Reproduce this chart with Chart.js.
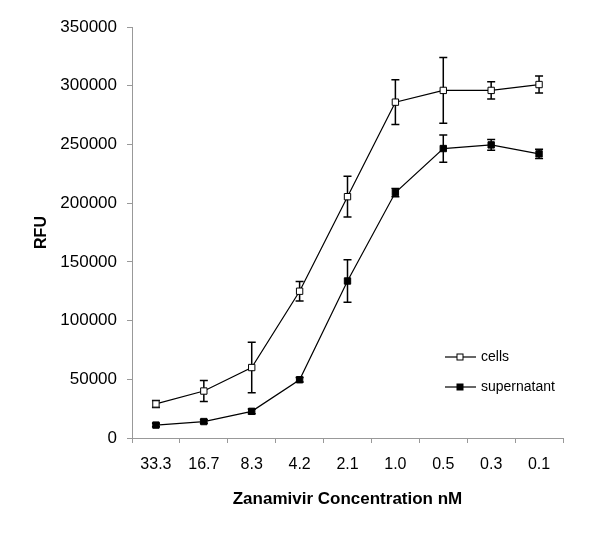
<!DOCTYPE html>
<html lang="en">
<head>
    <meta charset="UTF-8">
    <title>Zanamivir RFU</title>
    <script src="https://cdn.jsdelivr.net/npm/chart.js"></script>
    <style>
        body { margin: 0; background: #fff; }
        #wrap { width: 600px; height: 538px; }
    </style>
</head>
<body>
<div id="wrap"><canvas id="rfuChart"></canvas></div>
<script>
    const concentrations = ["33.3", "16.7", "8.3", "4.2", "2.1", "1.0", "0.5", "0.3", "0.1"];
    const cells = [29000, 40000, 60000, 125000, 205500, 286000, 296000, 296000, 301000];
    const cellsErr = [3000, 9000, 21500, 8300, 17300, 19000, 28000, 7400, 7200];
    const supernatant = [11000, 14000, 22700, 49600, 133700, 209000, 246500, 249600, 242000];
    const supernatantErr = [1500, 1500, 2000, 2000, 18000, 3500, 11600, 4500, 4000];
    const yTicks = [0, 50000, 100000, 150000, 200000, 250000, 300000, 350000];

    const FONT = "'Liberation Sans', Arial, sans-serif";

    // vertical error bars with caps, drawn under the markers
    const errorBars = {
        id: 'errorBars',
        beforeDatasetsDraw(chart) {
            const ctx = chart.ctx;
            const y = chart.scales.y;
            ctx.save();
            ctx.strokeStyle = '#000';
            ctx.lineWidth = 1.5;
            chart.data.datasets.forEach((ds, i) => {
                const meta = chart.getDatasetMeta(i);
                meta.data.forEach((pt, j) => {
                    const v = ds.data[j], e = ds.errors[j];
                    const top = y.getPixelForValue(v + e);
                    const bot = y.getPixelForValue(v - e);
                    ctx.beginPath();
                    ctx.moveTo(pt.x, top); ctx.lineTo(pt.x, bot);
                    ctx.moveTo(pt.x - 4, top); ctx.lineTo(pt.x + 4, top);
                    ctx.moveTo(pt.x - 4, bot); ctx.lineTo(pt.x + 4, bot);
                    ctx.stroke();
                });
            });
            ctx.restore();
        }
    };

    const insideLegend = {
        id: 'insideLegend',
        afterDraw(chart) {
            const ctx = chart.ctx;
            ctx.save();
            ctx.font = "14px " + FONT;
            ctx.textBaseline = 'middle';
            chart.data.datasets.forEach((ds, i) => {
                const ly = 357 + i * 30;
                ctx.strokeStyle = '#000';
                ctx.lineWidth = 1.2;
                ctx.beginPath();
                ctx.moveTo(445, ly); ctx.lineTo(476, ly);
                ctx.stroke();
                ctx.fillStyle = ds.pointBackgroundColor;
                ctx.fillRect(457, ly - 3, 6, 6);
                ctx.lineWidth = 1;
                ctx.strokeRect(457, ly - 3, 6, 6);
                ctx.fillStyle = '#000';
                ctx.fillText(ds.label, 481, ly);
            });
            ctx.restore();
        }
    };

    new Chart(document.getElementById('rfuChart'), {
        type: 'line',
        data: {
            labels: concentrations,
            datasets: [{
                label: 'cells',
                data: cells,
                errors: cellsErr,
                borderColor: '#000',
                borderWidth: 1.2,
                pointStyle: 'rect',
                pointRadius: 4.5,
                pointBorderWidth: 1,
                pointBorderColor: '#000',
                pointBackgroundColor: '#fff',
                tension: 0
            }, {
                label: 'supernatant',
                data: supernatant,
                errors: supernatantErr,
                borderColor: '#000',
                borderWidth: 1.2,
                pointStyle: 'rect',
                pointRadius: 4.5,
                pointBorderWidth: 1,
                pointBorderColor: '#000',
                pointBackgroundColor: '#000',
                tension: 0
            }]
        },
        options: {
            responsive: true,
            maintainAspectRatio: false,
            animation: false,
            layout: { padding: { top: 27, right: 37, bottom: 0, left: 0 } },
            plugins: { legend: { display: false }, tooltip: { enabled: false } },
            scales: {
                x: {
                    offset: true,
                    grid: { offset: true, drawOnChartArea: false, drawTicks: true, tickLength: 5, color: '#999' },
                    border: { color: '#999' },
                    ticks: { color: '#000', font: { family: FONT, size: 16 }, padding: 12, maxRotation: 0 },
                    title: {
                        display: true,
                        text: 'Zanamivir Concentration nM',
                        color: '#000',
                        font: { family: FONT, size: 17, weight: 'bold' },
                        padding: { top: 0, bottom: 28 }
                    },
                    afterFit(s) { s.height = 100; }
                },
                y: {
                    min: 0,
                    max: 350000,
                    afterBuildTicks(s) { s.ticks = yTicks.map(v => ({ value: v })); },
                    grid: { drawOnChartArea: false, drawTicks: true, tickLength: 5, color: '#999' },
                    border: { color: '#999' },
                    ticks: { color: '#000', font: { family: FONT, size: 17 }, padding: 10, callback: v => String(v) },
                    title: {
                        display: true,
                        text: 'RFU',
                        color: '#000',
                        font: { family: FONT, size: 16, weight: 'bold' },
                        padding: { top: 32, bottom: 0 }
                    },
                    afterFit(s) { s.width = 132; }
                }
            }
        },
        plugins: [errorBars, insideLegend]
    });
</script>
</body>
</html>
